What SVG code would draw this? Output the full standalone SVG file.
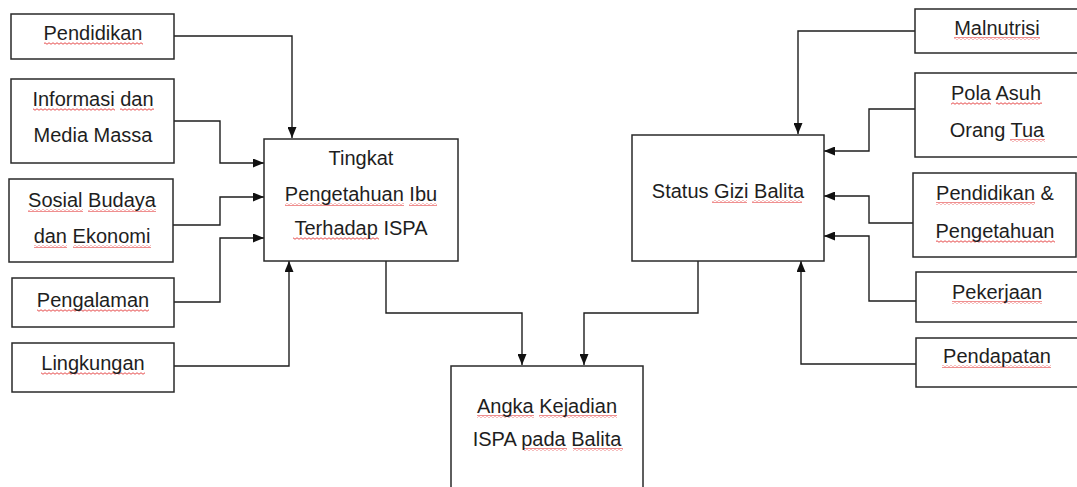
<svg xmlns="http://www.w3.org/2000/svg" width="1077" height="487" viewBox="0 0 1077 487">
<style>
.box{fill:#fff;stroke:#2a2a2a;stroke-width:1.5}
.t{font-family:"Liberation Sans",Arial,sans-serif;font-size:20px;fill:#1e1e1e;text-anchor:middle}
.c{fill:none;stroke:#1e1e1e;stroke-width:1.4}
.w{fill:url(#wave)}
</style>
<defs>
<marker id="arr" viewBox="0 0 11 9" refX="11" refY="4.5" markerWidth="11" markerHeight="9" markerUnits="userSpaceOnUse" orient="auto">
<path d="M0,0 L11,4.5 L0,9 z" fill="#111"/>
</marker>
<pattern id="wave" patternUnits="userSpaceOnUse" width="4" height="3">
<path d="M0,1.5 Q1,0 2,1.5 T4,1.5" fill="none" stroke="#e02020" stroke-width="0.8"/>
</pattern>
</defs>
<rect width="1077" height="487" fill="#fff"/>

<g id="connectors">
<path class="c" d="M174 36 H292 V138" marker-end="url(#arr)"/>
<path class="c" d="M174 121 H220 V163 H264" marker-end="url(#arr)"/>
<path class="c" d="M173 225 H220 V197 H264" marker-end="url(#arr)"/>
<path class="c" d="M174 302 H220 V238 H264" marker-end="url(#arr)"/>
<path class="c" d="M174 366 H289 V261" marker-end="url(#arr)"/>
<path class="c" d="M386 261 V313 H522 V365" marker-end="url(#arr)"/>
<path class="c" d="M698 261 V313 H584 V365" marker-end="url(#arr)"/>
<path class="c" d="M915 31 H798 V134" marker-end="url(#arr)"/>
<path class="c" d="M915 109 H869 V151 H824" marker-end="url(#arr)"/>
<path class="c" d="M913 223 H869 V196 H824" marker-end="url(#arr)"/>
<path class="c" d="M916 301 H869 V236 H824" marker-end="url(#arr)"/>
<path class="c" d="M916 364 H801 V261" marker-end="url(#arr)"/>
</g>

<g id="pendidikan">
<rect class="box" x="11" y="14" width="163" height="45"/>
<rect class="w" x="44" y="42" width="99" height="3"/>
<text class="t" x="93" y="40">Pendidikan</text>
</g>

<g id="informasi">
<rect class="box" x="11" y="79" width="163" height="84"/>
<rect class="w" x="33" y="108" width="82" height="3"/>
<rect class="w" x="120" y="108" width="34" height="3"/>
<text class="t" x="93" y="106">Informasi dan</text>
<text class="t" x="93" y="142">Media Massa</text>
</g>

<g id="sosial">
<rect class="box" x="9" y="179" width="164" height="83"/>
<rect class="w" x="28" y="209" width="55" height="3"/>
<rect class="w" x="88" y="209" width="68" height="3"/>
<rect class="w" x="34" y="245" width="33" height="3"/>
<rect class="w" x="73" y="245" width="78" height="3"/>
<text class="t" x="92" y="207">Sosial Budaya</text>
<text class="t" x="92" y="243">dan Ekonomi</text>
</g>

<g id="pengalaman">
<rect class="box" x="12" y="278" width="162" height="49"/>
<rect class="w" x="37" y="309" width="112" height="3"/>
<text class="t" x="93" y="307">Pengalaman</text>
</g>

<g id="lingkungan">
<rect class="box" x="12" y="343" width="162" height="49"/>
<rect class="w" x="41" y="372" width="104" height="3"/>
<text class="t" x="93" y="370">Lingkungan</text>
</g>

<g id="tingkat">
<rect class="box" x="264" y="139" width="194" height="122"/>
<rect class="w" x="285" y="203" width="119" height="3"/>
<rect class="w" x="409" y="203" width="28" height="3"/>
<rect class="w" x="293" y="237" width="86" height="3"/>
<text class="t" x="361" y="165">Tingkat</text>
<text class="t" x="361" y="201">Pengetahuan Ibu</text>
<text class="t" x="361" y="235">Terhadap ISPA</text>
</g>

<g id="angka">
<rect class="box" x="451" y="366" width="192" height="130"/>
<rect class="w" x="477" y="415" width="57" height="3"/>
<rect class="w" x="539" y="415" width="78" height="3"/>
<rect class="w" x="523" y="448" width="44" height="3"/>
<rect class="w" x="573" y="448" width="50" height="3"/>
<text class="t" x="547" y="413">Angka Kejadian</text>
<text class="t" x="547" y="446">ISPA pada Balita</text>
</g>

<g id="status">
<rect class="box" x="632" y="135" width="192" height="126"/>
<rect class="w" x="712" y="200" width="35" height="3"/>
<rect class="w" x="752" y="200" width="50" height="3"/>
<text class="t" x="728" y="198">Status Gizi Balita</text>
</g>

<g id="malnutrisi">
<rect class="box" x="915" y="9" width="170" height="44"/>
<rect class="w" x="954" y="37" width="86" height="3"/>
<text class="t" x="997" y="35">Malnutrisi</text>
</g>

<g id="pola-asuh">
<rect class="box" x="915" y="73" width="170" height="84"/>
<rect class="w" x="951" y="102" width="40" height="3"/>
<rect class="w" x="996" y="102" width="46" height="3"/>
<rect class="w" x="1010" y="139" width="35" height="3"/>
<text class="t" x="996" y="100">Pola Asuh</text>
<text class="t" x="997" y="137">Orang Tua</text>
</g>

<g id="pendidikan-pengetahuan">
<rect class="box" x="913" y="173" width="163" height="84"/>
<rect class="w" x="936" y="202" width="99" height="3"/>
<rect class="w" x="936" y="240" width="119" height="3"/>
<text class="t" x="995" y="200">Pendidikan &amp;</text>
<text class="t" x="995" y="238">Pengetahuan</text>
</g>

<g id="pekerjaan">
<rect class="box" x="916" y="272" width="169" height="50"/>
<rect class="w" x="952" y="301" width="90" height="3"/>
<text class="t" x="997" y="299">Pekerjaan</text>
</g>

<g id="pendapatan">
<rect class="box" x="916" y="338" width="169" height="49"/>
<rect class="w" x="942" y="365" width="109" height="3"/>
<text class="t" x="997" y="363">Pendapatan</text>
</g>
</svg>
